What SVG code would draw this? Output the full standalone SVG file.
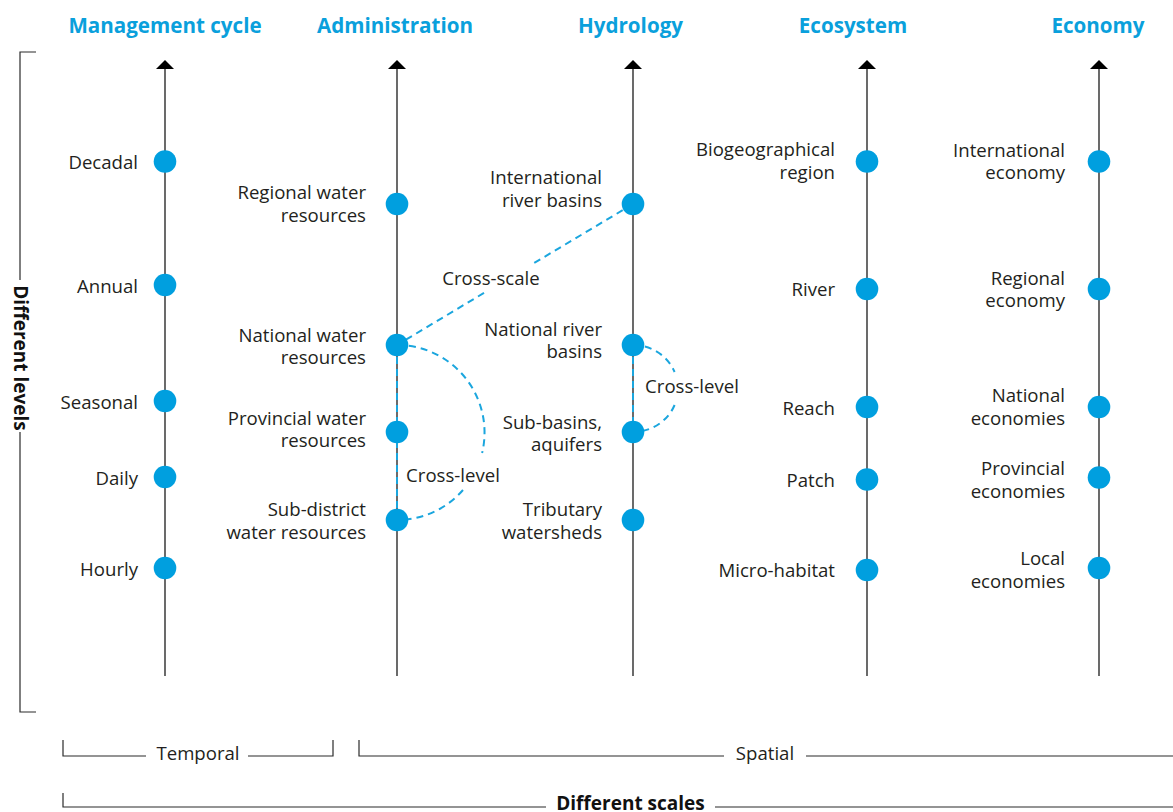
<svg xmlns="http://www.w3.org/2000/svg" width="1173" height="812" viewBox="0 0 1173 812">
<style>
.t{font-family:"Open Sans","Noto Sans",sans-serif;font-size:18.6px;fill:#231f20}
.lbl{text-anchor:end}
.title{font-family:"Open Sans","Noto Sans",sans-serif;font-size:20.6px;font-weight:bold;fill:#0aa0dc;text-anchor:middle}
.bold{font-family:"Open Sans","Noto Sans",sans-serif;font-size:19px;font-weight:bold;fill:#111;text-anchor:middle}
.axis{stroke:#2b2b2b;stroke-width:1.4;fill:none}
.br{stroke:#2b2b2b;stroke-width:1.2;fill:none}
.dot{fill:#009fdf}
.dash{stroke:#1ba6de;stroke-width:2;fill:none;stroke-dasharray:7 5}
</style>
<rect width="1173" height="812" fill="#fff"/>

<g id="titles">
<text class="title" x="165" y="33">Management cycle</text>
<text class="title" x="395" y="33">Administration</text>
<text class="title" x="630.5" y="33">Hydrology</text>
<text class="title" x="853" y="33">Ecosystem</text>
<text class="title" x="1098" y="33">Economy</text>
</g>

<g id="axes">
<line class="axis" x1="165" y1="676" x2="165" y2="68"/><polygon points="156,69 165,60 174,69" fill="#000"/>
<line class="axis" x1="397" y1="676" x2="397" y2="68"/><polygon points="388,69 397,60 406,69" fill="#000"/>
<line class="axis" x1="633" y1="676" x2="633" y2="68"/><polygon points="624,69 633,60 642,69" fill="#000"/>
<line class="axis" x1="867" y1="676" x2="867" y2="68"/><polygon points="858,69 867,60 876,69" fill="#000"/>
<line class="axis" x1="1099" y1="676" x2="1099" y2="68"/><polygon points="1090,69 1099,60 1108,69" fill="#000"/>
</g>

<g id="connectors">
<line class="dash" x1="397" y1="345" x2="397" y2="520"/>
<line class="dash" x1="633" y1="345" x2="633" y2="432"/>
<line class="dash" x1="633" y1="204" x2="533.5" y2="263.4"/>
<line class="dash" x1="484" y1="292.9" x2="397" y2="345"/>
<path class="dash" d="M397,345 A87.5,87.5 0 0 1 482.1,453"/>
<path class="dash" d="M463,490 A87.5,87.5 0 0 1 397,520"/>
<path class="dash" d="M633,345 A45,43.5 0 0 1 674.6,372"/>
<path class="dash" d="M674.6,405 A45,43.5 0 0 1 633,432"/>
<text class="t" x="491" y="285" text-anchor="middle">Cross-scale</text>
<text class="t" x="453" y="481.5" text-anchor="middle">Cross-level</text>
<text class="t" x="692" y="393" text-anchor="middle">Cross-level</text>
</g>

<g id="management">
<g id="n-decadal"><circle class="dot" cx="165" cy="161.5" r="11.3"/><text class="t lbl" x="138" y="169">Decadal</text></g>
<g id="n-annual"><circle class="dot" cx="165" cy="285" r="11.3"/><text class="t lbl" x="138" y="293">Annual</text></g>
<g id="n-seasonal"><circle class="dot" cx="165" cy="401" r="11.3"/><text class="t lbl" x="138" y="409">Seasonal</text></g>
<g id="n-daily"><circle class="dot" cx="165" cy="477" r="11.3"/><text class="t lbl" x="138" y="485">Daily</text></g>
<g id="n-hourly"><circle class="dot" cx="165" cy="568" r="11.3"/><text class="t lbl" x="138" y="576">Hourly</text></g>
</g>

<g id="administration">
<g id="n-regwater"><circle class="dot" cx="397" cy="204" r="11.3"/><text class="t lbl" x="366" y="199">Regional water</text><text class="t lbl" x="366" y="222">resources</text></g>
<g id="n-natwater"><circle class="dot" cx="397" cy="345" r="11.3"/><text class="t lbl" x="366" y="342">National water</text><text class="t lbl" x="366" y="364">resources</text></g>
<g id="n-provwater"><circle class="dot" cx="397" cy="432" r="11.3"/><text class="t lbl" x="366" y="425">Provincial water</text><text class="t lbl" x="366" y="447">resources</text></g>
<g id="n-subwater"><circle class="dot" cx="397" cy="520" r="11.3"/><text class="t lbl" x="366" y="516">Sub-district</text><text class="t lbl" x="366" y="539">water resources</text></g>
</g>

<g id="hydrology">
<g id="n-intbasins"><circle class="dot" cx="633" cy="204" r="11.3"/><text class="t lbl" x="602" y="184">International</text><text class="t lbl" x="602" y="207">river basins</text></g>
<g id="n-natbasins"><circle class="dot" cx="633" cy="345" r="11.3"/><text class="t lbl" x="602" y="336">National river</text><text class="t lbl" x="602" y="358">basins</text></g>
<g id="n-subbasins"><circle class="dot" cx="633" cy="432" r="11.3"/><text class="t lbl" x="602" y="429">Sub-basins,</text><text class="t lbl" x="602" y="451">aquifers</text></g>
<g id="n-tributary"><circle class="dot" cx="633" cy="520" r="11.3"/><text class="t lbl" x="602" y="516">Tributary</text><text class="t lbl" x="602" y="539">watersheds</text></g>
</g>

<g id="ecosystem">
<g id="n-biogeo"><circle class="dot" cx="867" cy="161.5" r="11.3"/><text class="t lbl" x="835" y="156">Biogeographical</text><text class="t lbl" x="835" y="179">region</text></g>
<g id="n-river"><circle class="dot" cx="867" cy="289" r="11.3"/><text class="t lbl" x="835" y="296">River</text></g>
<g id="n-reach"><circle class="dot" cx="867" cy="407" r="11.3"/><text class="t lbl" x="835" y="415">Reach</text></g>
<g id="n-patch"><circle class="dot" cx="867" cy="479.5" r="11.3"/><text class="t lbl" x="835" y="487">Patch</text></g>
<g id="n-micro"><circle class="dot" cx="867" cy="570" r="11.3"/><text class="t lbl" x="835" y="577">Micro-habitat</text></g>
</g>

<g id="economy">
<g id="n-inteco"><circle class="dot" cx="1099" cy="161.5" r="11.3"/><text class="t lbl" x="1065" y="157">International</text><text class="t lbl" x="1065" y="179">economy</text></g>
<g id="n-regeco"><circle class="dot" cx="1099" cy="289" r="11.3"/><text class="t lbl" x="1065" y="285">Regional</text><text class="t lbl" x="1065" y="307">economy</text></g>
<g id="n-nateco"><circle class="dot" cx="1099" cy="407" r="11.3"/><text class="t lbl" x="1065" y="402">National</text><text class="t lbl" x="1065" y="425">economies</text></g>
<g id="n-proveco"><circle class="dot" cx="1099" cy="477.5" r="11.3"/><text class="t lbl" x="1065" y="475">Provincial</text><text class="t lbl" x="1065" y="498">economies</text></g>
<g id="n-loceco"><circle class="dot" cx="1099" cy="568" r="11.3"/><text class="t lbl" x="1065" y="565">Local</text><text class="t lbl" x="1065" y="588">economies</text></g>
</g>

<g id="brackets">
<polyline class="br" points="36,52 20,52 20,280"/>
<polyline class="br" points="20,432 20,712 36,712"/>
<text class="bold" transform="translate(13.5,358) rotate(90)">Different levels</text>

<polyline class="br" points="63,740 63,756 146,756"/>
<polyline class="br" points="248,756 333,756 333,740"/>
<text class="t" x="198" y="760" text-anchor="middle">Temporal</text>

<polyline class="br" points="359,740 359,756 724,756"/>
<line class="br" x1="806" y1="756" x2="1173" y2="756"/>
<text class="t" x="765" y="760" text-anchor="middle">Spatial</text>

<polyline class="br" points="63,793 63,807 546,807"/>
<line class="br" x1="715" y1="807" x2="1173" y2="807"/>
<text class="bold" x="630.5" y="810">Different scales</text>
</g>
</svg>
